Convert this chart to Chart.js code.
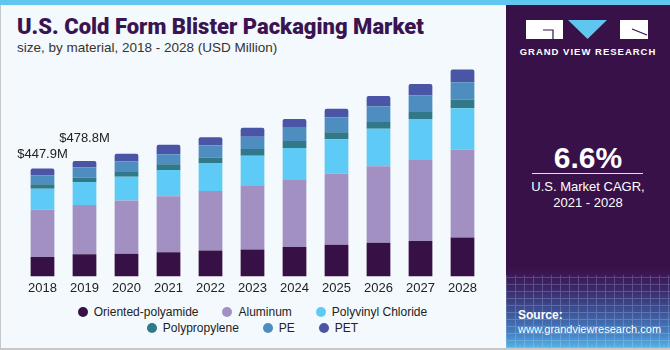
<!DOCTYPE html>
<html>
<head>
<meta charset="utf-8">
<script src="https://cdn.jsdelivr.net/npm/chart.js@4/dist/chart.umd.min.js"></script>
<style>
  body { margin: 0; width: 670px; height: 350px; overflow: hidden; background: #f4f9fd; font-family: "Liberation Sans", Arial, sans-serif; }
  #frame { position: absolute; left: 0; top: 0; width: 670px; height: 350px; box-sizing: border-box; border-left: 1px solid #c8c8c8; border-bottom: 2px solid #c8c8c8; }
  #topbar { position: absolute; left: 0; top: 0; width: 670px; height: 5px; background: #5ec6ef; }
  #title { position: absolute; left: 17px; top: 14px; font: 900 22px Roboto, "Liberation Sans", sans-serif; color: #3a1450; white-space: nowrap; }
  #subtitle { position: absolute; left: 17px; top: 40px; font-size: 13.5px; color: #333; white-space: nowrap; }
  #chart { position: absolute; left: 0; top: 0; }
  #legend { position: absolute; left: 0; top: 304px; width: 505px; font-size: 12px; color: #222; }
  .row { display: flex; justify-content: center; height: 16px; line-height: 16px; }
  .item { display: flex; align-items: center; margin: 0 12px; }
  .dot { width: 10px; height: 10px; border-radius: 50%; margin-right: 6px; }
  #side { position: absolute; left: 506px; top: 5px; width: 164px; height: 343px;
    background: linear-gradient(to bottom, #381148 0, #381148 262px, #3b2566 282px, #3d4f93 305px, #4585c6 330px, #56b4e6 343px); overflow: hidden; }
  #grid { position: absolute; left: 0; top: 270px; width: 164px; height: 73px; opacity: 0.22;
    background-image: repeating-linear-gradient(90deg, #cfe6ff 0 1px, transparent 1px 9px), repeating-linear-gradient(0deg, #cfe6ff 0 1px, transparent 1px 7px); }
  #side .t { position: absolute; left: 0; width: 164px; text-align: center; color: #fff; }
</style>
</head>
<body>
<div id="frame"></div>
<div id="topbar"></div>
<div id="title">U.S. Cold Form Blister Packaging Market</div>
<div id="subtitle">size, by material, 2018 - 2028 (USD Million)</div>
<canvas id="chart" width="505" height="300"></canvas>
<div id="legend"></div>
<div id="side">
  <div id="grid"></div>
  <svg style="position:absolute;left:20px;top:15px" width="122" height="20" viewBox="0 0 122 20">
    <rect x="0" y="0" width="37" height="19" fill="#fff"/>
    <path d="M17 10 H27 V19" stroke="#381148" stroke-width="1.2" fill="none"/>
    <polygon points="42,0 81,0 61.5,19" fill="#5ec6ef"/>
    <rect x="94" y="0" width="28" height="19" fill="#fff"/>
    <path d="M106 9 L121 15" stroke="#381148" stroke-width="1.2" fill="none"/>
  </svg>
  <div class="t" style="top:41px;font-size:9.5px;font-weight:bold;letter-spacing:1px">GRAND VIEW RESEARCH</div>
  <div class="t" style="top:136px;font-size:30px;font-weight:bold">6.6%</div>
  <div style="position:absolute;left:26px;top:168px;width:111px;height:1px;background:#e8e0ee"></div>
  <div class="t" style="top:174px;font-size:13px;line-height:16px">U.S. Market CAGR,<br>2021 - 2028</div>
  <div style="position:absolute;left:12px;top:303px;font-size:11px;line-height:14px;color:#fff"><b style="font-size:12px">Source:</b><br>www.grandviewresearch.com</div>
</div>
<script>
const years = ['2018', '2019', '2020', '2021', '2022', '2023', '2024', '2025', '2026', '2027', '2028'];
const materials = ['Oriented-polyamide', 'Aluminum', 'Polyvinyl Chloride', 'Polypropylene', 'PE', 'PET'];
const colors = ['#371046', '#a390c3', '#5dcbf5', '#317888', '#4e8dc0', '#4a55a5'];

const orientedPolyamide = [80, 92, 94, 100, 107, 112, 122, 131, 140, 147, 161];
const aluminum = [197, 204, 221, 232, 247, 266, 278, 296, 317, 339, 365];
const polyvinylChloride = [87, 96, 98, 109, 116, 122, 133, 142, 155, 167, 171];
const polypropylene = [18, 18, 23, 24, 22, 28, 29, 29, 28, 32, 37];
const pe = [37, 41.8, 41.5, 41.5, 51, 51, 54, 61, 65, 66, 71];
const pet = [28.9, 27, 31, 39, 34, 37, 37, 36, 43, 47, 53];
const totalLabels = ['$447.9M', '$478.8M'];

const series = [orientedPolyamide, aluminum, polyvinylChloride, polypropylene, pe, pet];

// totals above the first two bars
const totalsPlugin = {
  id: 'totals',
  afterDatasetsDraw(chart) {
    const ctx = chart.ctx;
    const top = chart.getDatasetMeta(series.length - 1).data;
    const lift = [10, 19];
    ctx.save();
    ctx.font = '13px "Liberation Sans", Arial, sans-serif';
    ctx.fillStyle = '#222';
    ctx.textAlign = 'center';
    ctx.textBaseline = 'alphabetic';
    totalLabels.forEach((txt, i) => {
      ctx.fillText(txt, top[i].x, top[i].y - lift[i]);
    });
    ctx.restore();
  }
};

new Chart(document.getElementById('chart'), {
  type: 'bar',
  data: {
    labels: years,
    datasets: series.map((vals, i) => ({
      label: materials[i],
      data: vals,
      backgroundColor: colors[i],
      barPercentage: 0.565,
      categoryPercentage: 1,
      borderRadius: i === series.length - 1 ? { topLeft: 2, topRight: 2 } : 0,
      borderSkipped: false
    }))
  },
  options: {
    responsive: false,
    animation: false,
    layout: { padding: { left: 21.5, right: 21.5, top: 60, bottom: 0 } },
    plugins: { legend: { display: false }, tooltip: { enabled: false } },
    scales: {
      x: {
        stacked: true,
        grid: { display: false, drawTicks: false },
        border: { display: false },
        ticks: { color: '#222', padding: 4, font: { size: 13, family: '"Liberation Sans", Arial, sans-serif' } }
      },
      y: { stacked: true, display: false, min: 0, max: 897.5 }
    }
  },
  plugins: [totalsPlugin]
});

const legend = document.getElementById('legend');
[[0, 1, 2], [3, 4, 5]].forEach(idx => {
  const row = document.createElement('div');
  row.className = 'row';
  idx.forEach(i => {
    const it = document.createElement('div');
    it.className = 'item';
    it.innerHTML = '<span class="dot" style="background:' + colors[i] + '"></span>' + materials[i];
    row.appendChild(it);
  });
  legend.appendChild(row);
});
</script>
</body>
</html>
